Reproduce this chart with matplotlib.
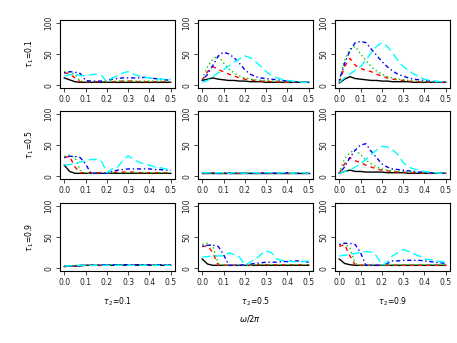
import numpy as np
import matplotlib
matplotlib.use("Agg")
import matplotlib.pyplot as plt

# frequency grid (omega / 2 pi)
freq = [0.0, 0.025, 0.05, 0.075, 0.1, 0.125, 0.15, 0.175, 0.2, 0.225, 0.25,
        0.275, 0.3, 0.325, 0.35, 0.375, 0.4, 0.425, 0.45, 0.475, 0.5]

tau1_labels = ["0.1", "0.5", "0.9"]
tau2_labels = ["0.1", "0.5", "0.9"]

# series per panel: black, red, green, blue, cyan
p11 = [
    [12, 9, 6, 5, 5, 5, 5, 5, 5, 5, 5, 5, 5, 5, 5, 5, 5, 5, 5, 5, 5],
    [20, 19, 12, 6, 6, 6, 6, 6, 6, 6, 6, 7, 7, 7, 6, 6, 6, 6, 6, 6, 5],
    [22, 21, 18, 7, 6, 6, 6, 6, 6, 7, 7, 7, 7, 7, 7, 7, 7, 7, 7, 7, 6],
    [20, 22, 21, 19, 8, 7, 7, 7, 8, 10, 11, 12, 12, 12, 12, 13, 12, 11, 10, 9, 8],
    [15, 17, 18, 16, 15, 17, 18, 16, 6, 12, 15, 20, 22, 18, 15, 13, 12, 11, 10, 10, 10],
]
p12 = [
    [8, 10, 12, 10, 9, 8, 8, 7, 7, 6, 6, 6, 5, 5, 5, 5, 5, 5, 5, 5, 5],
    [8, 22, 30, 25, 22, 18, 15, 12, 10, 9, 8, 7, 7, 6, 6, 5, 5, 5, 5, 5, 5],
    [10, 30, 42, 47, 36, 26, 20, 15, 12, 10, 9, 8, 8, 7, 7, 6, 6, 6, 6, 5, 5],
    [8, 18, 32, 47, 53, 50, 44, 35, 25, 18, 14, 12, 11, 10, 9, 8, 7, 6, 6, 5, 5],
    [5, 8, 14, 20, 25, 31, 37, 42, 47, 44, 38, 30, 22, 16, 12, 10, 8, 7, 6, 5, 5],
]
p13 = [
    [4, 10, 14, 11, 10, 9, 8, 8, 7, 7, 6, 6, 6, 6, 5, 5, 5, 5, 5, 5, 5],
    [5, 30, 43, 32, 27, 24, 22, 18, 15, 12, 10, 9, 8, 7, 6, 6, 6, 5, 5, 5, 5],
    [8, 40, 58, 62, 50, 40, 30, 23, 18, 14, 12, 10, 9, 8, 7, 6, 6, 6, 5, 5, 5],
    [8, 35, 55, 68, 70, 68, 58, 48, 38, 30, 23, 18, 15, 12, 10, 9, 8, 7, 6, 5, 5],
    [5, 12, 18, 24, 30, 40, 52, 62, 68, 62, 52, 40, 30, 24, 18, 14, 10, 8, 7, 6, 5],
]
p21 = [
    [18, 8, 5, 5, 5, 5, 5, 5, 5, 5, 5, 5, 5, 5, 5, 5, 5, 5, 5, 5, 5],
    [30, 32, 15, 6, 6, 6, 6, 6, 6, 6, 7, 7, 7, 7, 6, 6, 6, 6, 6, 6, 6],
    [32, 34, 30, 10, 5, 5, 5, 5, 5, 6, 6, 6, 6, 6, 6, 6, 6, 6, 6, 6, 6],
    [30, 32, 32, 30, 20, 5, 5, 5, 5, 8, 10, 11, 12, 12, 12, 12, 12, 11, 11, 10, 10],
    [18, 19, 20, 23, 25, 27, 27, 24, 6, 12, 15, 25, 33, 27, 23, 20, 18, 15, 14, 12, 10],
]
p22 = [
    [5, 5, 5, 5, 5, 5, 5, 5, 5, 5, 5, 5, 5, 5, 5, 5, 5, 5, 5, 5, 5],
    [5, 5, 6, 5, 5, 6, 5, 5, 6, 5, 5, 6, 5, 5, 6, 5, 5, 6, 5, 5, 6],
    [6, 5, 5, 6, 5, 5, 6, 5, 5, 6, 5, 5, 6, 5, 5, 6, 5, 5, 6, 5, 5],
    [5, 6, 5, 5, 6, 5, 5, 6, 5, 5, 6, 5, 5, 6, 5, 5, 6, 5, 5, 6, 5],
    [6, 6, 5, 6, 6, 5, 6, 6, 5, 6, 6, 5, 6, 6, 5, 6, 6, 5, 6, 6, 5],
]
p23 = [
    [5, 8, 10, 8, 8, 7, 7, 7, 7, 6, 6, 6, 6, 5, 5, 5, 5, 5, 5, 5, 5],
    [5, 20, 30, 25, 22, 18, 15, 12, 10, 9, 8, 7, 7, 6, 6, 6, 5, 5, 5, 5, 5],
    [5, 28, 38, 42, 35, 26, 20, 15, 12, 10, 9, 8, 8, 7, 7, 6, 6, 6, 5, 5, 5],
    [5, 15, 30, 42, 50, 52, 40, 30, 20, 15, 12, 11, 10, 9, 8, 7, 7, 6, 6, 5, 5],
    [5, 8, 10, 15, 20, 27, 35, 42, 48, 47, 42, 35, 22, 15, 12, 10, 8, 7, 6, 5, 5],
]
p31 = [
    [3, 4, 4, 4, 5, 5, 5, 5, 5, 5, 6, 5, 5, 5, 5, 5, 5, 5, 5, 5, 5],
    [3, 4, 4, 5, 5, 6, 5, 5, 6, 6, 6, 6, 6, 6, 6, 6, 6, 6, 6, 5, 6],
    [4, 4, 5, 5, 5, 5, 6, 6, 6, 6, 6, 6, 6, 6, 6, 6, 6, 6, 6, 6, 6],
    [4, 4, 4, 5, 5, 5, 5, 6, 6, 6, 6, 6, 6, 6, 6, 6, 6, 6, 6, 6, 6],
    [4, 4, 5, 5, 5, 5, 5, 5, 5, 5, 5, 5, 5, 5, 5, 5, 5, 5, 5, 5, 5],
]
p32 = [
    [15, 7, 5, 5, 5, 5, 5, 5, 5, 5, 5, 5, 5, 5, 5, 5, 5, 5, 5, 5, 5],
    [35, 36, 25, 5, 5, 5, 5, 5, 5, 5, 6, 6, 6, 6, 6, 6, 6, 6, 6, 6, 6],
    [38, 40, 35, 8, 5, 5, 5, 5, 5, 5, 6, 6, 6, 6, 6, 6, 6, 6, 6, 6, 6],
    [35, 37, 37, 35, 22, 5, 5, 5, 6, 7, 8, 9, 10, 10, 10, 11, 11, 12, 12, 11, 10],
    [18, 19, 20, 20, 20, 25, 22, 18, 5, 10, 15, 22, 28, 25, 15, 13, 12, 11, 10, 11, 12],
]
p33 = [
    [15, 8, 6, 5, 5, 5, 5, 5, 5, 5, 5, 5, 5, 5, 5, 5, 5, 5, 5, 5, 5],
    [35, 38, 20, 5, 5, 5, 5, 5, 5, 5, 5, 5, 5, 5, 5, 5, 5, 5, 5, 5, 5],
    [38, 40, 32, 8, 5, 5, 5, 5, 5, 5, 6, 6, 6, 6, 6, 6, 6, 6, 6, 6, 6],
    [38, 40, 40, 38, 25, 5, 5, 5, 5, 8, 12, 12, 13, 13, 13, 13, 12, 11, 10, 9, 8],
    [20, 21, 22, 24, 25, 27, 26, 20, 5, 10, 20, 25, 30, 27, 23, 20, 15, 14, 13, 11, 10],
]

panels = [[p11, p12, p13], [p21, p22, p23], [p31, p32, p33]]

colors = ["black", "red", "#00CD00", "blue", "cyan"]
styles = ["-", (0, (3, 3)), (0, (1, 2)), (0, (1, 2, 3, 2)), (0, (6, 3))]

W, H = 457, 343
fig = plt.figure(figsize=(W / 100, H / 100), dpi=100)

col_x = [60, 198, 335]
row_y = [20, 111, 203]
pw, ph = 115, 68

for i in range(3):
    for j in range(3):
        ax = fig.add_axes([col_x[j] / W, (H - row_y[i] - ph) / H, pw / W, ph / H])
        for k in range(5):
            ax.plot(freq, panels[i][j][k], color=colors[k], linestyle=styles[k], lw=1.0)
        ax.set_xlim(-0.02, 0.52)
        ax.set_ylim(-4, 104)
        ax.set_xticks([0, 0.1, 0.2, 0.3, 0.4, 0.5])
        ax.set_xticklabels(["0.0", "0.1", "0.2", "0.3", "0.4", "0.5"])
        ax.set_yticks([0, 50, 100])
        ax.set_yticklabels(["0", "50", "100"], rotation=90, va="center")
        ax.tick_params(labelsize=5.5, length=3, width=0.6, pad=2, colors="#222222")
        for s in ax.spines.values():
            s.set_linewidth(0.8)
        if j == 0:
            ax.set_ylabel(r"$\tau_{\,1}$=" + tau1_labels[i], fontsize=5.5, labelpad=6)
        if i == 2:
            ax.set_xlabel(r"$\tau_{\,2}$=" + tau2_labels[j], fontsize=5.5, labelpad=6)

fig.text(250 / W, 1 - 319 / H, r"$\omega/2\pi$", fontsize=6, ha="center", va="center")

fig.savefig("out.png", dpi=100)
